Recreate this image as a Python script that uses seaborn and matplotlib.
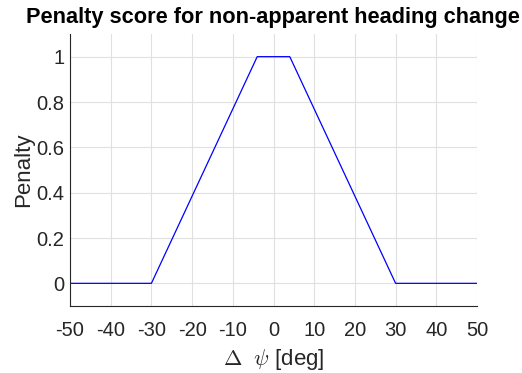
import matplotlib
matplotlib.use("Agg")
import matplotlib.pyplot as plt
import seaborn as sns
import pandas as pd

heading_change = [-50, -30, -4, 4, 30, 50]
penalty = [0, 0, 1, 1, 0, 0]
x_ticks = [-50, -40, -30, -20, -10, 0, 10, 20, 30, 40, 50]
y_ticks = [0, 0.2, 0.4, 0.6, 0.8, 1]
y_tick_labels = ["0", "0.2", "0.4", "0.6", "0.8", "1"]

sns.set_style("white")
plt.rcParams['font.family'] = ['Liberation Sans', 'DejaVu Sans']
plt.rcParams['mathtext.fontset'] = 'cm'

df = pd.DataFrame({"dpsi": heading_change, "pen": penalty})

fig = plt.figure(figsize=(5.22, 3.73), dpi=100)
ax = fig.add_axes([70/522, 1-306/373, (477-70)/522, (306-34)/373])
sns.lineplot(data=df, x="dpsi", y="pen", ax=ax, color="#0000ff", linewidth=0.9, sort=False)

ax.set_xlim(-50, 50)
ax.set_ylim(-0.1, 1.1)
ax.set_xticks(x_ticks)
ax.set_xticklabels([str(v) for v in x_ticks])
ax.set_yticks(y_ticks)
ax.set_yticklabels(y_tick_labels)
ax.grid(True, color="#e0e0e0", linewidth=0.8)
ax.set_axisbelow(True)
for s in ["top", "right"]:
    ax.spines[s].set_visible(False)
for s in ["left", "bottom"]:
    ax.spines[s].set_color("#262626")
    ax.spines[s].set_linewidth(0.8)
ax.tick_params(direction="in", length=4, width=0.8, colors="#262626", labelsize=14.5,
               labelcolor="#262626")
ax.tick_params(axis="x", pad=11)
ax.tick_params(axis="y", pad=4)
ax.set_xlabel(r"$\Delta$  $\psi$ [deg]", fontsize=16, color="#262626", labelpad=5)
ax.set_ylabel("Penalty", fontsize=16, color="#262626", labelpad=2)
ax.set_title("Penalty score for non-apparent heading change", fontsize=15.7, fontweight="bold",
             color="black", pad=8, x=(273-70)/407)

fig.savefig("out.png", dpi=100)
